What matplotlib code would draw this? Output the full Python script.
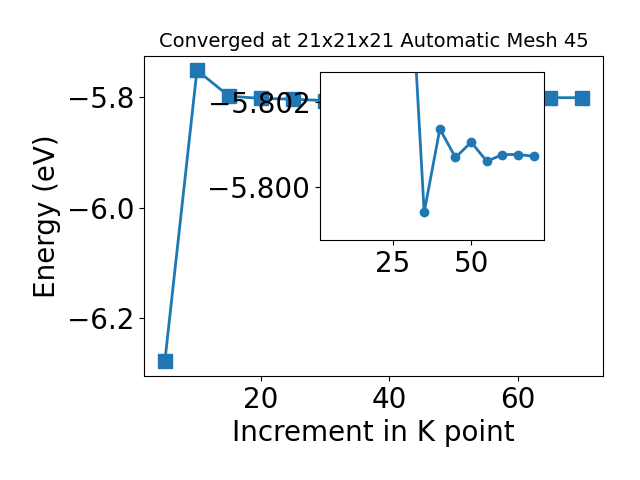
import numpy as np
import matplotlib; matplotlib.use("Agg")
import matplotlib.pyplot as plt

# k-point increment and total energy (eV)
kpts = [5, 10, 15, 20, 25, 30, 35, 40, 45, 50, 55, 60, 65, 70]
energy = [-6.278, -5.751, -5.798, -5.802, -5.8035, -5.806,
          -5.7994, -5.80136, -5.80069, -5.80105, -5.8006, -5.80076, -5.80076, -5.80072]
# the zoomed inset only shows the converged tail, starting at 30
tail_start = 5

fig = plt.figure(figsize=(6.4, 4.8), dpi=100)
ax = fig.add_axes([0.225, 0.217, 0.717, 0.667])
ax.plot(kpts, energy, marker="s", markersize=10, lw=2, color="#1f77b4")
ax.set_xlabel("Increment in K point", fontsize=20)
ax.set_ylabel("Energy (eV)", fontsize=20)
ax.set_title("Converged at 21x21x21 Automatic Mesh 45", fontsize=14)
ax.tick_params(labelsize=20)

axi = fig.add_axes([0.5, 0.5, 0.35, 0.35])
axi.plot(kpts[tail_start:], energy[tail_start:], marker="o", markersize=6, lw=2, color="#1f77b4")
axi.set_xlim(ax.get_xlim())
axi.set_ylim(-5.79875, -5.8027)
axi.tick_params(labelsize=20)

fig.savefig("out.png", dpi=100)
